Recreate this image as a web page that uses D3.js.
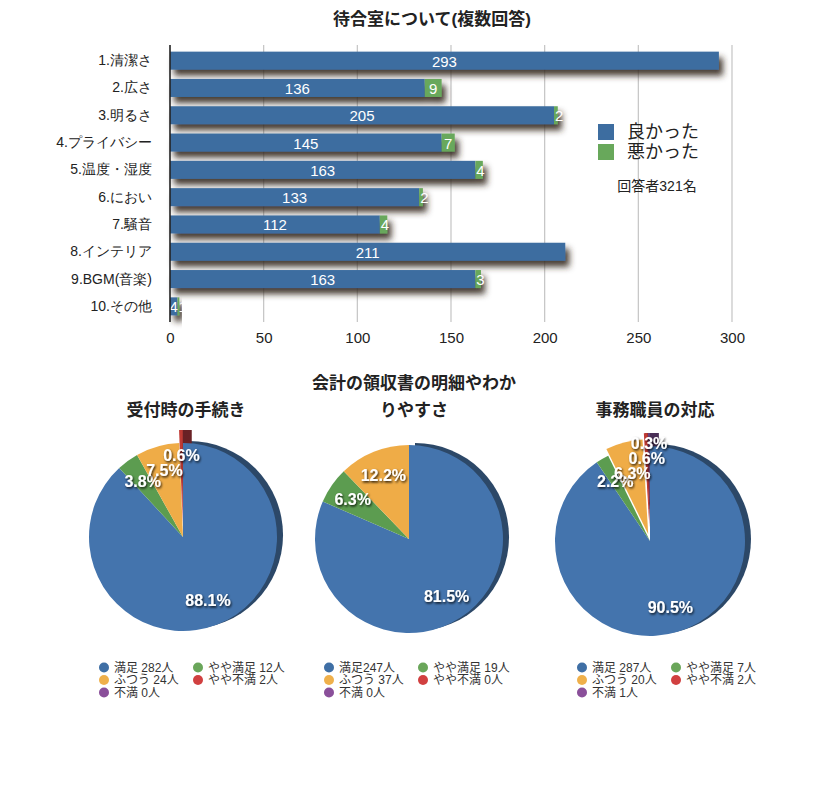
<!DOCTYPE html>
<html><head><meta charset="utf-8">
<script src="https://cdn.jsdelivr.net/npm/d3@7"></script>
<style>
html,body{margin:0;padding:0;background:#fff;}
svg{display:block;font-family:"Liberation Sans","Noto Sans CJK JP",sans-serif;}
</style></head>
<body><svg id="c" width="825" height="804"></svg>
<script>
// ---------- DATA ----------
const barTitle = "待合室について(複数回答)";
const categories = ["1.清潔さ","2.広さ","3.明るさ","4.プライバシー","5.温度・湿度","6.におい","7.騒音","8.インテリア","9.BGM(音楽)","10.その他"];
const goodValues = [293,136,205,145,163,133,112,211,163,4];
const badValues  = [0,9,2,7,4,2,4,0,3,1];
const seriesNames = ["良かった","悪かった"];
const respondentNote = "回答者321名";
const xTicks = [0,50,100,150,200,250,300];

const pieTitles = [["受付時の手続き"],["会計の領収書の明細やわか","りやすさ"],["事務職員の対応"]];
const pieCategories = ["満足","やや満足","ふつう","やや不満","不満"];
const pie1Values = [282,12,24,2,0];
const pie2Values = [247,19,37,0,0];
const pie3Values = [287,7,20,2,1];
const pie1Legend = ["満足 282人","やや満足 12人","ふつう 24人","やや不満 2人","不満 0人"];
const pie2Legend = ["満足247人","やや満足 19人","ふつう 37人","やや不満 0人","不満 0人"];
const pie3Legend = ["満足 287人","やや満足 7人","ふつう 20人","やや不満 2人","不満 1人"];

// ---------- DRAW ----------
const svg = d3.select("#c");
const defs = svg.append("defs");
const blue = "#3d6da0", green = "#68a85b";

const fBar = defs.append("filter").attr("id","barShadow").attr("x","-10%").attr("y","-60%").attr("width","130%").attr("height","280%");
fBar.append("feDropShadow").attr("dx",4).attr("dy",6).attr("stdDeviation",3).attr("flood-color","#35271f").attr("flood-opacity",0.9);
const fTxt = defs.append("filter").attr("id","txtShadow").attr("x","-20%").attr("y","-40%").attr("width","150%").attr("height","190%");
fTxt.append("feDropShadow").attr("dx",1).attr("dy",1.5).attr("stdDeviation",1.1).attr("flood-color","#000").attr("flood-opacity",0.85);

svg.append("text").attr("x",432).attr("y",19).attr("text-anchor","middle").attr("dominant-baseline","central")
  .attr("font-size",17).attr("font-weight","bold").attr("fill","#222").text(barTitle);

const x = d3.scaleLinear().domain([0,300]).range([170,732]);
const y = d3.scaleBand().domain(categories).range([47,320]).paddingInner(0.34).paddingOuter(0.17);
const gTop = 45, gBot = 322;

svg.append("g").selectAll("line").data(xTicks.filter(t=>t>0)).join("line")
  .attr("x1",d=>x(d)).attr("x2",d=>x(d)).attr("y1",gTop).attr("y2",gBot)
  .attr("stroke","#c4c4c4").attr("stroke-width",1.2);

const xAxis = svg.append("g").attr("transform",`translate(0,${gBot})`)
  .call(d3.axisBottom(x).tickValues(xTicks).tickSize(0).tickPadding(10).tickFormat(d3.format("d")));
xAxis.select(".domain").remove();
xAxis.selectAll("text").attr("font-size",15).attr("fill","#222").attr("font-family",null);

const yAxis = svg.append("g").attr("transform",`translate(${x(0)},0)`)
  .call(d3.axisLeft(y).tickSize(0).tickPadding(18));
yAxis.select(".domain").remove();
yAxis.selectAll("text").attr("font-size",14).attr("fill","#222").attr("font-family",null);

const rows = categories.map((c,i)=>({c, g:goodValues[i], b:badValues[i]}));
const rowG = svg.append("g").selectAll("g").data(rows).join("g").attr("filter","url(#barShadow)");
rowG.append("rect").attr("x",x(0)).attr("y",d=>y(d.c)).attr("width",d=>x(d.g)-x(0)).attr("height",y.bandwidth()).attr("fill",blue);
rowG.filter(d=>d.b>0).append("rect").attr("x",d=>x(d.g)).attr("y",d=>y(d.c)).attr("width",d=>x(d.g+d.b)-x(d.g)).attr("height",y.bandwidth()).attr("fill",green);

const lbl = svg.append("g").attr("font-size",15).attr("fill","#fff").attr("dominant-baseline","central");
lbl.selectAll("text.g").data(rows).join("text").attr("class","g").attr("text-anchor","middle")
  .attr("x",d=>(x(0)+x(d.g))/2).attr("y",d=>y(d.c)+y.bandwidth()/2+0.5).text(d=>d.g);
lbl.selectAll("text.b").data(rows.filter(d=>d.b>0)).join("text").attr("class","b")
  .attr("text-anchor",d=>(x(d.g+d.b)-x(d.g))<10?"start":"middle")
  .attr("x",d=>(x(d.g+d.b)-x(d.g))<10 ? x(d.g)+1 : (x(d.g)+x(d.g+d.b))/2)
  .attr("y",d=>y(d.c)+y.bandwidth()/2+0.5).text(d=>d.b);

svg.append("line").attr("x1",x(0)).attr("x2",x(0)).attr("y1",gTop).attr("y2",gBot).attr("stroke","#222").attr("stroke-width",1.6);

// legend
const leg = svg.append("g");
[blue,green].forEach((col,i)=>{
  leg.append("rect").attr("x",598).attr("y",124+i*20).attr("width",16).attr("height",16).attr("fill",col);
  leg.append("text").attr("x",627).attr("y",132+i*20).attr("dominant-baseline","central").attr("font-size",18).attr("fill","#222").text(seriesNames[i]);
});
leg.append("text").attr("x",657).attr("y",186).attr("text-anchor","middle").attr("dominant-baseline","central").attr("font-size",14).attr("fill","#222").text(respondentNote);

// ---------- PIES ----------
const pieShades = [
  ["#6eaae4","#5590cd","#4474ad"],
  ["#84c274","#6db061","#5c9c50"],
  ["#fccd72","#f7bc5b","#efac47"],
  ["#e65f57","#d84841","#bf3a34"],
  ["#996fa9","#80508f","#6a3f7a"]
];
const extrudeColors = ["#2c4868","#3f6a37","#a87528","#6a2226","#4a2f57"];
const legendColors = ["#3f6fa5","#6aa65a","#efb04b","#d14040","#8a4f9a"];
const pieData = [pie1Values,pie2Values,pie3Values];
const pieLegends = [pie1Legend,pie2Legend,pie3Legend];
const layout = [
  {cx:183, cy:537, r:94, tx:186, legX:104, explode:[0,0,0,13,13]},
  {cx:409, cy:539, r:94, tx:414, legX:329, explode:[0,0,0,0,0]},
  {cx:650, cy:541, r:95, tx:655, legX:582, explode:[0,0,7,13,13]}
];
const pie = d3.pie().sort(null).value(d=>d);

pieData.forEach((vals,pi)=>{
  const L = layout[pi];
  const total = d3.sum(vals);
  const g = svg.append("g");
  const tl = pieTitles[pi];
  tl.forEach((t,k)=>{
    g.append("text").attr("x",L.tx).attr("y",410-(tl.length-1-k)*27).attr("text-anchor","middle").attr("dominant-baseline","central")
      .attr("font-size",17).attr("font-weight","bold").attr("fill","#222").text(t);
  });
  pieShades.forEach((sh,ci)=>{
    const gr = defs.append("radialGradient").attr("id",`pg${pi}_${ci}`).attr("gradientUnits","userSpaceOnUse")
      .attr("cx",L.cx+L.r*0.3).attr("cy",L.cy-L.r*0.35).attr("r",L.r*1.4);
    gr.append("stop").attr("offset",0).attr("stop-color",sh[0]);
    gr.append("stop").attr("offset",0.55).attr("stop-color",sh[1]);
    gr.append("stop").attr("offset",1).attr("stop-color",sh[2]);
  });
  const arcs = pie(vals);
  const arc = d3.arc().innerRadius(0).outerRadius(L.r);
  const off = (a,dist)=>{const m=(a.startAngle+a.endAngle)/2; return [Math.sin(m)*dist, -Math.cos(m)*dist];};
  const pg = g.append("g").attr("transform",`translate(${L.cx},${L.cy})`);
  pg.append("path").attr("d",d3.arc().innerRadius(0).outerRadius(L.r)({startAngle:0,endAngle:Math.PI}))
    .attr("transform","translate(6,-2)").attr("fill","#2c4868");
  arcs.forEach((a,i)=>{
    if(a.value<=0 || L.explode[i]<12) return;
    const [ox,oy] = off(a,L.explode[i]);
    for(let s=1;s<=9;s++){
      pg.append("path").attr("d",arc(a)).attr("transform",`translate(${ox+s},${oy})`).attr("fill",extrudeColors[i]);
    }
  });
  arcs.forEach((a,i)=>{
    if(a.value<=0) return;
    const [ox,oy] = off(a,L.explode[i]);
    pg.append("path").attr("d",arc(a)).attr("transform",`translate(${ox},${oy})`).attr("fill",`url(#pg${pi}_${i})`);
  });
  const placed = [];
  arcs.forEach((a,i)=>{
    if(a.value<=0) return;
    const m=(a.startAngle+a.endAngle)/2;
    let rr = L.r*0.73;
    let px = Math.sin(m)*rr, py = -Math.cos(m)*rr;
    if(a.value/total < 0.01){
      let guard=0;
      while(placed.some(p=>Math.abs(p[0]-px)<40 && Math.abs(p[1]-py)<15) && guard<200){
        rr+=1; px=Math.sin(m)*rr; py=-Math.cos(m)*rr; guard++;
      }
    }
    placed.push([px,py]);
    pg.append("text").attr("x",px).attr("y",py).attr("text-anchor","middle").attr("dominant-baseline","central")
      .attr("font-size",16).attr("font-weight","bold").attr("fill","#fff").attr("filter","url(#txtShadow)")
      .text((a.value/total*100).toFixed(1)+"%");
  });
  const lg = g.append("g");
  pieLegends[pi].forEach((t,i)=>{
    const col = i%2, row = Math.floor(i/2);
    const lx = L.legX + col*94, ly = 667.5+row*12.5;
    lg.append("circle").attr("cx",lx).attr("cy",ly).attr("r",5).attr("fill",legendColors[i]);
    lg.append("text").attr("x",lx+10).attr("y",ly).attr("dominant-baseline","central").attr("font-size",12).attr("fill","#333").text(t);
  });
});
</script></body></html>
